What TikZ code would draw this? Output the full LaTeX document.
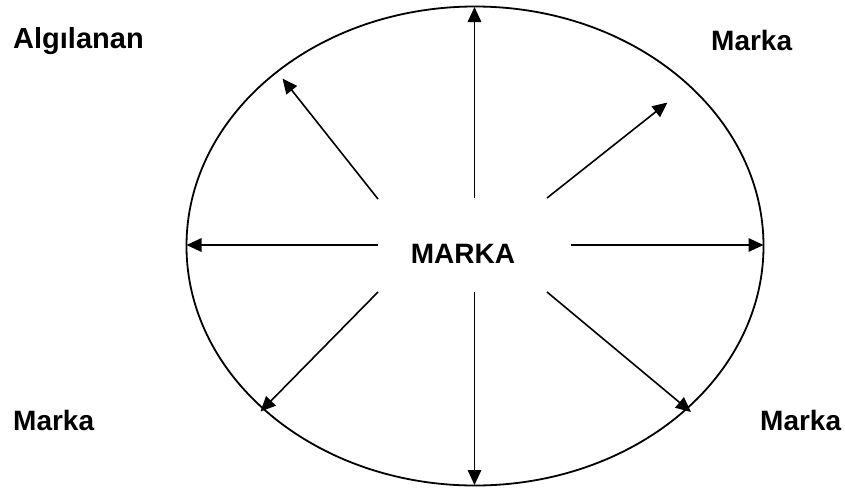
\documentclass[tikz,border=0pt]{standalone}
\usepackage{fontspec}
\setmainfont{Liberation Sans}
\usetikzlibrary{arrows.meta}
\begin{document}
\begin{tikzpicture}[x=1pt,y=-1pt,
  lbl/.style={font=\fontsize{28}{30}\selectfont\bfseries, inner sep=0pt, anchor=base west},
  ray/.style={line width=1.6pt, -{Triangle[length=15pt,width=13.5pt]}},
  rim/.style={line width=1.8pt}]
\useasboundingbox (0,0) rectangle (845,490);
\draw[rim] (475,246) ellipse [x radius=288.5, y radius=239.5];
\node[lbl, anchor=base] (c) at (463,263) {MARKA};
\node[lbl, font=\fontsize{29}{31}\selectfont\bfseries] (tl) at (13,48) {Algılanan};
\node[lbl] (tr) at (711,50) {Marka};
\node[lbl] (bl) at (13,430) {Marka};
\node[lbl] (br) at (760,430) {Marka};
% start points
\coordinate (sU) at (474.5,198);
\coordinate (sD) at (474.5,292);
\coordinate (sL) at (378,245);
\coordinate (sR) at (571,245);
\coordinate (sUL) at (378,199);
\coordinate (sUR) at (547,198);
\coordinate (sDL) at (378,292);
\coordinate (sDR) at (547,292);
% end points
\coordinate (eU) at (474.5,7);
\coordinate (eD) at (474.5,485);
\coordinate (eL) at (186.5,245);
\coordinate (eR) at (763.5,245);
\coordinate (eUL) at (282.5,78.5);
\coordinate (eUR) at (667.5,102.5);
\coordinate (eDL) at (260.5,411.5);
\coordinate (eDR) at (691,412);
\foreach \d in {U,D,L,R,UL,UR,DL,DR} \draw[ray] (s\d) -- (e\d);
\end{tikzpicture}
\end{document}
